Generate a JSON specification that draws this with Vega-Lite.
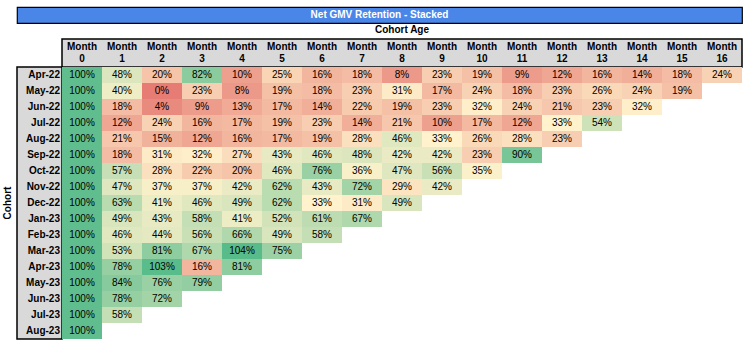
{
  "$schema": "https://vega.github.io/schema/vega-lite/v6.json",
  "background": "white",
  "padding": {"left": 2, "top": 6, "right": 4, "bottom": 4},
  "config": {
    "font": "Liberation Sans",
    "view": {"stroke": null},
    "title": {"font": "Liberation Sans"}
  },
  "datasets": {
    "months": [
      {"month": 0, "label": "Month 0"}, {"month": 1, "label": "Month 1"}, {"month": 2, "label": "Month 2"},
      {"month": 3, "label": "Month 3"}, {"month": 4, "label": "Month 4"}, {"month": 5, "label": "Month 5"},
      {"month": 6, "label": "Month 6"}, {"month": 7, "label": "Month 7"}, {"month": 8, "label": "Month 8"},
      {"month": 9, "label": "Month 9"}, {"month": 10, "label": "Month 10"}, {"month": 11, "label": "Month 11"},
      {"month": 12, "label": "Month 12"}, {"month": 13, "label": "Month 13"}, {"month": 14, "label": "Month 14"},
      {"month": 15, "label": "Month 15"}, {"month": 16, "label": "Month 16"}
    ],
    "cohorts": [
      {"cohort": "Apr-22"}, {"cohort": "May-22"}, {"cohort": "Jun-22"}, {"cohort": "Jul-22"},
      {"cohort": "Aug-22"}, {"cohort": "Sep-22"}, {"cohort": "Oct-22"}, {"cohort": "Nov-22"},
      {"cohort": "Dec-22"}, {"cohort": "Jan-23"}, {"cohort": "Feb-23"}, {"cohort": "Mar-23"},
      {"cohort": "Apr-23"}, {"cohort": "May-23"}, {"cohort": "Jun-23"}, {"cohort": "Jul-23"},
      {"cohort": "Aug-23"}
    ],
    "cells": [
      {"cohort": "Apr-22", "month": 0, "retention": 1.00}, {"cohort": "Apr-22", "month": 1, "retention": 0.48},
      {"cohort": "Apr-22", "month": 2, "retention": 0.20}, {"cohort": "Apr-22", "month": 3, "retention": 0.82},
      {"cohort": "Apr-22", "month": 4, "retention": 0.10}, {"cohort": "Apr-22", "month": 5, "retention": 0.25},
      {"cohort": "Apr-22", "month": 6, "retention": 0.16}, {"cohort": "Apr-22", "month": 7, "retention": 0.18},
      {"cohort": "Apr-22", "month": 8, "retention": 0.08}, {"cohort": "Apr-22", "month": 9, "retention": 0.23},
      {"cohort": "Apr-22", "month": 10, "retention": 0.19}, {"cohort": "Apr-22", "month": 11, "retention": 0.09},
      {"cohort": "Apr-22", "month": 12, "retention": 0.12}, {"cohort": "Apr-22", "month": 13, "retention": 0.16},
      {"cohort": "Apr-22", "month": 14, "retention": 0.14}, {"cohort": "Apr-22", "month": 15, "retention": 0.18},
      {"cohort": "Apr-22", "month": 16, "retention": 0.24},

      {"cohort": "May-22", "month": 0, "retention": 1.00}, {"cohort": "May-22", "month": 1, "retention": 0.40},
      {"cohort": "May-22", "month": 2, "retention": 0.00}, {"cohort": "May-22", "month": 3, "retention": 0.23},
      {"cohort": "May-22", "month": 4, "retention": 0.08}, {"cohort": "May-22", "month": 5, "retention": 0.19},
      {"cohort": "May-22", "month": 6, "retention": 0.18}, {"cohort": "May-22", "month": 7, "retention": 0.23},
      {"cohort": "May-22", "month": 8, "retention": 0.31}, {"cohort": "May-22", "month": 9, "retention": 0.17},
      {"cohort": "May-22", "month": 10, "retention": 0.24}, {"cohort": "May-22", "month": 11, "retention": 0.18},
      {"cohort": "May-22", "month": 12, "retention": 0.23}, {"cohort": "May-22", "month": 13, "retention": 0.26},
      {"cohort": "May-22", "month": 14, "retention": 0.24}, {"cohort": "May-22", "month": 15, "retention": 0.19},

      {"cohort": "Jun-22", "month": 0, "retention": 1.00}, {"cohort": "Jun-22", "month": 1, "retention": 0.18},
      {"cohort": "Jun-22", "month": 2, "retention": 0.04}, {"cohort": "Jun-22", "month": 3, "retention": 0.09},
      {"cohort": "Jun-22", "month": 4, "retention": 0.13}, {"cohort": "Jun-22", "month": 5, "retention": 0.17},
      {"cohort": "Jun-22", "month": 6, "retention": 0.14}, {"cohort": "Jun-22", "month": 7, "retention": 0.22},
      {"cohort": "Jun-22", "month": 8, "retention": 0.19}, {"cohort": "Jun-22", "month": 9, "retention": 0.23},
      {"cohort": "Jun-22", "month": 10, "retention": 0.32}, {"cohort": "Jun-22", "month": 11, "retention": 0.24},
      {"cohort": "Jun-22", "month": 12, "retention": 0.21}, {"cohort": "Jun-22", "month": 13, "retention": 0.23},
      {"cohort": "Jun-22", "month": 14, "retention": 0.32},

      {"cohort": "Jul-22", "month": 0, "retention": 1.00}, {"cohort": "Jul-22", "month": 1, "retention": 0.12},
      {"cohort": "Jul-22", "month": 2, "retention": 0.24}, {"cohort": "Jul-22", "month": 3, "retention": 0.16},
      {"cohort": "Jul-22", "month": 4, "retention": 0.17}, {"cohort": "Jul-22", "month": 5, "retention": 0.19},
      {"cohort": "Jul-22", "month": 6, "retention": 0.23}, {"cohort": "Jul-22", "month": 7, "retention": 0.14},
      {"cohort": "Jul-22", "month": 8, "retention": 0.21}, {"cohort": "Jul-22", "month": 9, "retention": 0.10},
      {"cohort": "Jul-22", "month": 10, "retention": 0.17}, {"cohort": "Jul-22", "month": 11, "retention": 0.12},
      {"cohort": "Jul-22", "month": 12, "retention": 0.33}, {"cohort": "Jul-22", "month": 13, "retention": 0.54},

      {"cohort": "Aug-22", "month": 0, "retention": 1.00}, {"cohort": "Aug-22", "month": 1, "retention": 0.21},
      {"cohort": "Aug-22", "month": 2, "retention": 0.15}, {"cohort": "Aug-22", "month": 3, "retention": 0.12},
      {"cohort": "Aug-22", "month": 4, "retention": 0.16}, {"cohort": "Aug-22", "month": 5, "retention": 0.17},
      {"cohort": "Aug-22", "month": 6, "retention": 0.19}, {"cohort": "Aug-22", "month": 7, "retention": 0.28},
      {"cohort": "Aug-22", "month": 8, "retention": 0.46}, {"cohort": "Aug-22", "month": 9, "retention": 0.33},
      {"cohort": "Aug-22", "month": 10, "retention": 0.26}, {"cohort": "Aug-22", "month": 11, "retention": 0.28},
      {"cohort": "Aug-22", "month": 12, "retention": 0.23},

      {"cohort": "Sep-22", "month": 0, "retention": 1.00}, {"cohort": "Sep-22", "month": 1, "retention": 0.18},
      {"cohort": "Sep-22", "month": 2, "retention": 0.31}, {"cohort": "Sep-22", "month": 3, "retention": 0.32},
      {"cohort": "Sep-22", "month": 4, "retention": 0.27}, {"cohort": "Sep-22", "month": 5, "retention": 0.43},
      {"cohort": "Sep-22", "month": 6, "retention": 0.46}, {"cohort": "Sep-22", "month": 7, "retention": 0.48},
      {"cohort": "Sep-22", "month": 8, "retention": 0.42}, {"cohort": "Sep-22", "month": 9, "retention": 0.42},
      {"cohort": "Sep-22", "month": 10, "retention": 0.23}, {"cohort": "Sep-22", "month": 11, "retention": 0.90},

      {"cohort": "Oct-22", "month": 0, "retention": 1.00}, {"cohort": "Oct-22", "month": 1, "retention": 0.57},
      {"cohort": "Oct-22", "month": 2, "retention": 0.28}, {"cohort": "Oct-22", "month": 3, "retention": 0.22},
      {"cohort": "Oct-22", "month": 4, "retention": 0.20}, {"cohort": "Oct-22", "month": 5, "retention": 0.46},
      {"cohort": "Oct-22", "month": 6, "retention": 0.76}, {"cohort": "Oct-22", "month": 7, "retention": 0.36},
      {"cohort": "Oct-22", "month": 8, "retention": 0.47}, {"cohort": "Oct-22", "month": 9, "retention": 0.56},
      {"cohort": "Oct-22", "month": 10, "retention": 0.35},

      {"cohort": "Nov-22", "month": 0, "retention": 1.00}, {"cohort": "Nov-22", "month": 1, "retention": 0.47},
      {"cohort": "Nov-22", "month": 2, "retention": 0.37}, {"cohort": "Nov-22", "month": 3, "retention": 0.37},
      {"cohort": "Nov-22", "month": 4, "retention": 0.42}, {"cohort": "Nov-22", "month": 5, "retention": 0.62},
      {"cohort": "Nov-22", "month": 6, "retention": 0.43}, {"cohort": "Nov-22", "month": 7, "retention": 0.72},
      {"cohort": "Nov-22", "month": 8, "retention": 0.29}, {"cohort": "Nov-22", "month": 9, "retention": 0.42},

      {"cohort": "Dec-22", "month": 0, "retention": 1.00}, {"cohort": "Dec-22", "month": 1, "retention": 0.63},
      {"cohort": "Dec-22", "month": 2, "retention": 0.41}, {"cohort": "Dec-22", "month": 3, "retention": 0.46},
      {"cohort": "Dec-22", "month": 4, "retention": 0.49}, {"cohort": "Dec-22", "month": 5, "retention": 0.62},
      {"cohort": "Dec-22", "month": 6, "retention": 0.33}, {"cohort": "Dec-22", "month": 7, "retention": 0.31},
      {"cohort": "Dec-22", "month": 8, "retention": 0.49},

      {"cohort": "Jan-23", "month": 0, "retention": 1.00}, {"cohort": "Jan-23", "month": 1, "retention": 0.49},
      {"cohort": "Jan-23", "month": 2, "retention": 0.43}, {"cohort": "Jan-23", "month": 3, "retention": 0.58},
      {"cohort": "Jan-23", "month": 4, "retention": 0.41}, {"cohort": "Jan-23", "month": 5, "retention": 0.52},
      {"cohort": "Jan-23", "month": 6, "retention": 0.61}, {"cohort": "Jan-23", "month": 7, "retention": 0.67},

      {"cohort": "Feb-23", "month": 0, "retention": 1.00}, {"cohort": "Feb-23", "month": 1, "retention": 0.46},
      {"cohort": "Feb-23", "month": 2, "retention": 0.44}, {"cohort": "Feb-23", "month": 3, "retention": 0.56},
      {"cohort": "Feb-23", "month": 4, "retention": 0.66}, {"cohort": "Feb-23", "month": 5, "retention": 0.49},
      {"cohort": "Feb-23", "month": 6, "retention": 0.58},

      {"cohort": "Mar-23", "month": 0, "retention": 1.00}, {"cohort": "Mar-23", "month": 1, "retention": 0.53},
      {"cohort": "Mar-23", "month": 2, "retention": 0.81}, {"cohort": "Mar-23", "month": 3, "retention": 0.67},
      {"cohort": "Mar-23", "month": 4, "retention": 1.04}, {"cohort": "Mar-23", "month": 5, "retention": 0.75},

      {"cohort": "Apr-23", "month": 0, "retention": 1.00}, {"cohort": "Apr-23", "month": 1, "retention": 0.78},
      {"cohort": "Apr-23", "month": 2, "retention": 1.03}, {"cohort": "Apr-23", "month": 3, "retention": 0.16},
      {"cohort": "Apr-23", "month": 4, "retention": 0.81},

      {"cohort": "May-23", "month": 0, "retention": 1.00}, {"cohort": "May-23", "month": 1, "retention": 0.84},
      {"cohort": "May-23", "month": 2, "retention": 0.76}, {"cohort": "May-23", "month": 3, "retention": 0.79},

      {"cohort": "Jun-23", "month": 0, "retention": 1.00}, {"cohort": "Jun-23", "month": 1, "retention": 0.78},
      {"cohort": "Jun-23", "month": 2, "retention": 0.72},

      {"cohort": "Jul-23", "month": 0, "retention": 1.00}, {"cohort": "Jul-23", "month": 1, "retention": 0.58},

      {"cohort": "Aug-23", "month": 0, "retention": 1.00}
    ]
  },
  "spacing": 16,
  "bounds": "flush",
  "vconcat": [
    {
      "width": 725,
      "height": 16,
      "view": {"fill": "#4a86e8", "stroke": "#000000", "strokeWidth": 1.2},
      "data": {"values": [{"title": "Net GMV Retention - Stacked"}]},
      "mark": {"type": "text", "color": "white", "fontWeight": "bold", "fontSize": 10, "baseline": "middle", "align": "center"},
      "encoding": {"text": {"field": "title", "type": "nominal"}}
    },
    {
      "columns": 2,
      "spacing": 0,
      "bounds": "flush",
      "concat": [
        {
          "width": 45,
          "height": 28,
          "data": {"values": []},
          "mark": "text",
          "encoding": {}
        },
        {
          "width": 680,
          "height": 28,
          "view": {"fill": "#d9d9d9", "stroke": "#000000", "strokeWidth": 1.5},
          "title": {"text": "Cohort Age", "fontSize": 10, "fontWeight": "bold", "anchor": "middle", "offset": 4, "color": "#000000"},
          "data": {"name": "months"},
          "mark": {"type": "text", "fontSize": 10, "fontWeight": "bold", "lineBreak": " ", "lineHeight": 12, "baseline": "middle", "dy": -6, "color": "#000000"},
          "encoding": {
            "x": {"field": "month", "type": "ordinal", "axis": null},
            "text": {"field": "label", "type": "nominal"}
          }
        },
        {
          "width": 45,
          "height": 272,
          "view": {"fill": "#d9d9d9", "stroke": "#000000", "strokeWidth": 1.5},
          "title": {"text": "Cohort", "orient": "left", "fontSize": 10, "fontWeight": "bold", "anchor": "middle", "offset": 4, "color": "#000000"},
          "data": {"name": "cohorts"},
          "mark": {"type": "text", "fontSize": 10, "fontWeight": "bold", "align": "right", "baseline": "middle", "dx": -2, "color": "#000000"},
          "encoding": {
            "y": {"field": "cohort", "type": "ordinal", "sort": null, "axis": null},
            "x": {"value": "width"},
            "text": {"field": "cohort", "type": "nominal"}
          }
        },
        {
          "width": 680,
          "height": 272,
          "data": {"name": "cells"},
          "encoding": {
            "x": {"field": "month", "type": "ordinal", "axis": null},
            "y": {"field": "cohort", "type": "ordinal", "sort": null, "axis": null}
          },
          "layer": [
            {
              "mark": {"type": "rect"},
              "encoding": {
                "color": {
                  "field": "retention",
                  "type": "quantitative",
                  "legend": null,
                  "scale": {"domain": [0, 0.33, 1.04], "range": ["#e67c73", "#fff2cc", "#57bb8a"], "interpolate": "rgb"}
                }
              }
            },
            {
              "mark": {"type": "text", "fontSize": 10, "color": "#000000", "baseline": "middle"},
              "encoding": {
                "text": {"field": "retention", "type": "quantitative", "format": ".0%"}
              }
            }
          ]
        }
      ]
    }
  ]
}
